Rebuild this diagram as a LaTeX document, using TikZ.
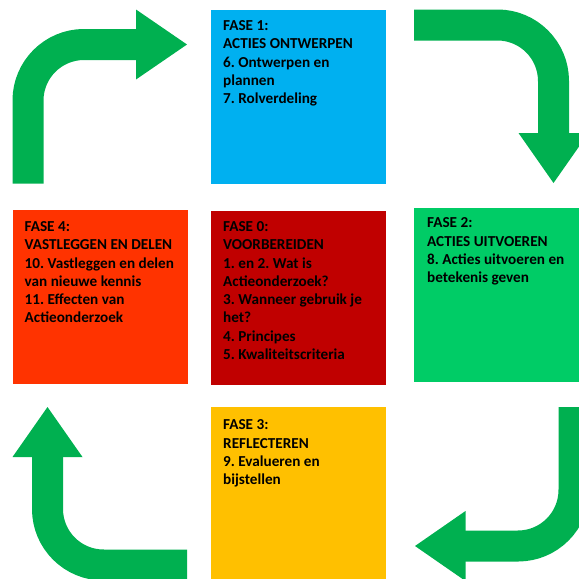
\documentclass[tikz,border=0pt]{standalone}
\usepackage{fontspec}
\setmainfont{Carlito}
\definecolor{faseblue}{HTML}{00B0F0}
\definecolor{faseorange}{HTML}{FF3300}
\definecolor{fasered}{HTML}{C00000}
\definecolor{fasegreen}{HTML}{00CC66}
\definecolor{faseyellow}{HTML}{FFC000}
\definecolor{arrowgreen}{HTML}{00B050}
\begin{document}
\frenchspacing
\begin{tikzpicture}[x=1pt,y=-1pt,
  fasebox/.style={draw=none,rectangle,minimum width=175pt,minimum height=174pt,inner sep=0pt,anchor=north west},
  fasetext/.style={anchor=north west,inner sep=0pt,align=left,font=\fontsize{15.2}{18.3}\selectfont\bfseries\frenchspacing,text=black},
  shaft/.style={draw=arrowgreen,line width=31pt,rounded corners=56pt},
  head/.style={fill=arrowgreen,draw=none}]
\useasboundingbox (0,0) rectangle (579,579);
\begin{scope}
\clip (0,0) rectangle (579,579);
% boxes
\node[fasebox,fill=faseblue] (f1) at (211,10) {};
\node[fasebox,fill=faseorange] (f4) at (12.5,210) {};
\node[fasebox,fill=fasered] (f0) at (211,210.5) {};
\node[fasebox,fill=fasegreen] (f2) at (414,208) {};
\node[fasebox,fill=faseyellow] (f3) at (211,407) {};
% texts
\node[fasetext] (t1) at ([shift={(12,10.3)}]f1.north west) {FASE 1:\\ACTIES ONTWERPEN\\6. Ontwerpen en\\plannen\\7. Rolverdeling};
\node[fasetext] (t4) at ([shift={(12,11.3)}]f4.north west) {FASE 4:\\VASTLEGGEN EN DELEN\\10. Vastleggen en delen\\van nieuwe kennis\\11. Effecten van\\Actieonderzoek};
\node[fasetext] (t0) at ([shift={(12,10.8)}]f0.north west) {FASE 0:\\VOORBEREIDEN\\1. en 2. Wat is\\Actieonderzoek?\\3. Wanneer gebruik je\\het?\\4. Principes\\5. Kwaliteitscriteria};
\node[fasetext] (t2) at ([shift={(13,9.8)}]f2.north west) {FASE 2:\\ACTIES UITVOEREN\\8. Acties uitvoeren en\\betekenis geven};
\node[fasetext] (t3) at ([shift={(12,12.8)}]f3.north west) {FASE 3:\\REFLECTEREN\\9. Evalueren en\\bijstellen};
% arrow coordinates
\coordinate (a1s) at (28,183.5);
\coordinate (a1c) at (28,44.5);
\coordinate (a1e) at (136.5,44.5);
\coordinate (a2s) at (414,25);
\coordinate (a2c) at (553.5,25);
\coordinate (a2e) at (553.5,133.5);
\coordinate (a3s) at (574,407);
\coordinate (a3c) at (574,546);
\coordinate (a3e) at (465,546);
\coordinate (a4s) at (187,565);
\coordinate (a4c) at (47.5,565);
\coordinate (a4e) at (47.5,456.5);
% arrows
\draw[shaft] (a1s) -- (a1c) -- (a1e);
\fill[head] (136,9.5) -- (187,44.5) -- (136,79.5) -- cycle;
\draw[shaft] (a2s) -- (a2c) -- (a2e);
\fill[head] (518.5,133) -- (553.5,183) -- (588.5,133) -- cycle;
\draw[shaft] (a3s) -- (a3c) -- (a3e);
\fill[head] (465.5,511) -- (415,546) -- (465.5,581) -- cycle;
\draw[shaft] (a4s) -- (a4c) -- (a4e);
\fill[head] (12.5,457) -- (47.5,407) -- (82.5,457) -- cycle;
\end{scope}
\end{tikzpicture}
\end{document}
